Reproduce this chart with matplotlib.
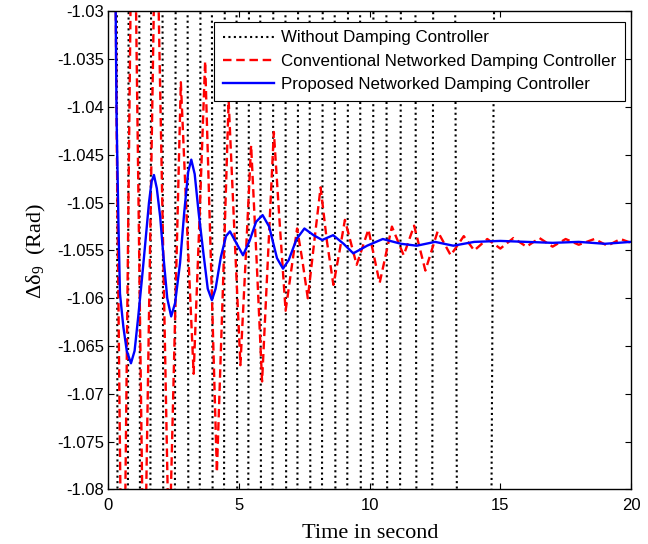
import numpy as np
import matplotlib
matplotlib.use("Agg")
import matplotlib.pyplot as plt

plt.rcParams["mathtext.fontset"] = "custom"
plt.rcParams["mathtext.rm"] = "Liberation Serif"

# ---- data -----------------------------------------------------------------
# without controller: huge undamped swing, stored as its (off-scale) extremes
black_t = [0.12, 0.54, 0.98, 1.40, 1.84, 2.32, 2.80, 3.28, 3.74, 4.20, 4.68,
           5.145, 5.59, 6.05, 6.545, 7.025, 7.47, 7.95, 8.43, 8.91, 9.405,
           9.88, 10.38, 10.92, 11.44, 12.09, 12.74, 13.855, 15.585, 20.0]
black_v = [-0.6, -1.5, -0.6, -1.5, -0.6, -1.5, -0.6, -1.5, -0.6, -1.5, -0.6,
           -1.5, -0.6, -1.5, -0.6, -1.5, -0.6, -1.5, -0.6, -1.5, -0.6,
           -1.5, -0.6, -1.5, -0.6, -1.5, -0.6, -1.5, -0.6, -0.6]

red_t = [0.0, 0.28, 0.31, 0.55, 0.94, 1.36, 1.82, 2.32, 2.55, 2.77, 3.0,
         3.26, 3.48, 3.70, 3.92, 4.15, 4.38, 4.60, 4.82, 5.05, 5.25, 5.46,
         5.67, 5.88, 6.10, 6.33, 6.55, 6.78, 7.0, 7.22, 7.42, 7.63, 7.88,
         8.12, 8.36, 8.61, 8.85, 9.05, 9.5, 9.95, 10.38, 10.85, 11.3, 11.7,
         12.13, 12.6, 13.1, 13.6, 14.0, 14.5, 15.0, 15.5, 16.0, 16.5, 17.0,
         17.5, 18.0, 18.6, 19.1, 19.6, 20.0]
red_v = [-1.0, -1.03, -1.0415, -1.105, -1.005, -1.095, -1.015, -1.088,
         -1.062, -1.0374, -1.052, -1.0679, -1.052, -1.0352, -1.056, -1.0782,
         -1.059, -1.0393, -1.053, -1.067, -1.056, -1.044, -1.056, -1.0687,
         -1.056, -1.0426, -1.052, -1.0613, -1.057, -1.0527, -1.056, -1.060,
         -1.054, -1.0484, -1.054, -1.0586, -1.055, -1.0518, -1.0565, -1.0528,
         -1.0584, -1.0525, -1.0555, -1.0524, -1.0571, -1.053, -1.0555,
         -1.0535, -1.055, -1.0538, -1.0548, -1.0537, -1.0546, -1.0537,
         -1.0546, -1.0538, -1.0544, -1.0538, -1.0545, -1.0538, -1.0542]

blue_t = [0.0, 0.25, 0.31, 0.38, 0.44, 0.57, 0.70, 0.86, 1.00, 1.14, 1.28,
          1.40, 1.55, 1.65, 1.74, 1.85, 1.98, 2.10, 2.25, 2.40, 2.55, 2.74,
          2.90, 3.05, 3.17, 3.30, 3.45, 3.63, 3.80, 3.96, 4.10, 4.30, 4.50,
          4.65, 4.85, 5.15, 5.40, 5.65, 5.90, 6.15, 6.45, 6.68, 6.90, 7.20,
          7.50, 7.85, 8.18, 8.60, 9.00, 9.37, 9.9, 10.5, 11.2, 11.8, 12.5,
          13.2, 14.0, 15.0, 16.0, 17.0, 18.0, 19.0, 20.0]
blue_v = [-1.0, -1.022, -1.041, -1.052, -1.0595, -1.063, -1.0655, -1.0668,
          -1.0655, -1.0619, -1.058, -1.0545, -1.050, -1.0478, -1.0471,
          -1.0485, -1.0515, -1.0555, -1.060, -1.0619, -1.0605, -1.0563,
          -1.051, -1.0468, -1.0455, -1.047, -1.051, -1.0552, -1.059, -1.0602,
          -1.059, -1.0557, -1.0535, -1.053, -1.054, -1.0555, -1.054, -1.052,
          -1.0513, -1.0525, -1.0558, -1.0569, -1.056, -1.0538, -1.0527,
          -1.0534, -1.0539, -1.0534, -1.0543, -1.0553, -1.0545, -1.0538,
          -1.0543, -1.0545, -1.0541, -1.0545, -1.0541, -1.054, -1.0541,
          -1.0542, -1.0541, -1.0543, -1.0541]

labels = ["Without Damping Controller",
          "Conventional Networked Damping Controller",
          "Proposed Networked Damping Controller"]
xticks = [0, 5, 10, 15, 20]
yticks = [-1.08, -1.075, -1.07, -1.065, -1.06, -1.055, -1.05, -1.045,
          -1.04, -1.035, -1.03]
ytick_labels = ["-1.08", "-1.075", "-1.07", "-1.065", "-1.06", "-1.055",
                "-1.05", "-1.045", "-1.04", "-1.035", "-1.03"]

# ---- plot ------------------------------------------------------------------
fig = plt.figure(figsize=(6.48, 5.44), dpi=100)
ax = fig.add_axes([0.1674, 0.1002, 0.8063, 0.8787])

ax.plot(black_t, black_v, color="black", lw=1.5, linestyle=(0, (1, 1.6)),
        label=labels[0])
ax.plot(red_t, red_v, color="red", lw=1.7, linestyle=(0, (3.6, 2.0)),
        label=labels[1])
ax.plot(blue_t, blue_v, color="blue", lw=1.7, label=labels[2])

ax.set_xlim(0, 20)
ax.set_ylim(-1.08, -1.03)
ax.set_xticks(xticks)
ax.set_yticks(yticks)
ax.set_yticklabels(ytick_labels)
ax.tick_params(direction="in", length=4, width=0.8, top=True, right=True,
               labelsize=12)
ax.tick_params(axis="x", pad=6)
ax.tick_params(axis="y", pad=3)
for lab in ax.get_xticklabels() + ax.get_yticklabels():
    lab.set_fontfamily("Liberation Sans")
for sp in ax.spines.values():
    sp.set_linewidth(1.0)

ax.set_xlabel("Time in second", fontfamily="Liberation Serif", fontsize=16,
              labelpad=8)
ax.set_ylabel("Δδ$_9$  (Rad)", fontfamily="Liberation Serif", fontsize=16)
ax.yaxis.set_label_coords(-0.116, 0.5)

leg = ax.legend(loc="upper right", bbox_to_anchor=(0.9885, 0.978),
                borderaxespad=0, fancybox=False, framealpha=1,
                edgecolor="black", handlelength=3.0, handletextpad=0.44,
                labelspacing=0.5, borderpad=0.5,
                prop={"family": "Liberation Sans", "size": 12.2})
leg.get_frame().set_linewidth(0.8)

fig.savefig("out.png", dpi=100)
